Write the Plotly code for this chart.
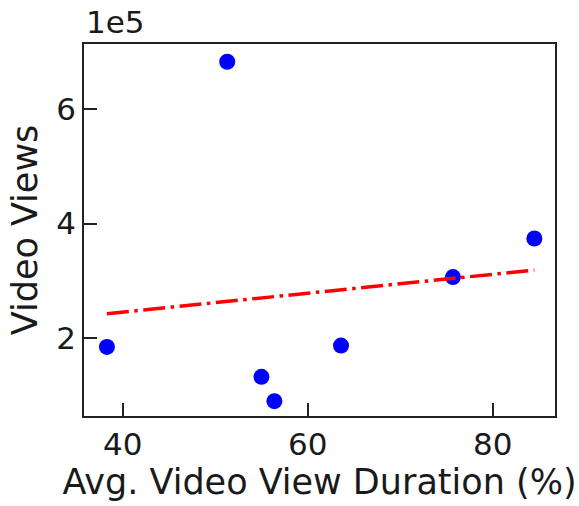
import numpy as np
import plotly.graph_objects as go

avg_view_duration = [38.3, 51.3, 55.0, 56.4, 63.6, 75.7, 84.5]
video_views = [185000, 682000, 133000, 90600, 187400, 306700, 374000]

x_ticks = [40, 60, 80]
y_ticks = [200000, 400000, 600000]
y_tick_labels = ["2", "4", "6"]
exponent_label = "1e5"

slope, intercept = np.polyfit(avg_view_duration, video_views, 1)
x_fit = [min(avg_view_duration), max(avg_view_duration)]
y_fit = [slope * v + intercept for v in x_fit]

FONT = "DejaVu Sans"

fig = go.Figure()
fig.add_trace(go.Scatter(
    x=avg_view_duration, y=video_views, mode="markers",
    marker=dict(color="#0000ff", size=16, line=dict(width=0)),
    showlegend=False,
))
fig.add_trace(go.Scatter(
    x=x_fit, y=y_fit, mode="lines",
    line=dict(color="#ff0000", width=3.5, dash="22px,5.5px,3.5px,5.5px"),
    showlegend=False,
))

axis_common = dict(
    showgrid=False, zeroline=False, showline=True, linecolor="#222222",
    linewidth=1.5, mirror=True, ticks="inside", ticklen=13, tickwidth=1.5,
    tickcolor="#222222", tickfont=dict(family=FONT, size=31, color="#1a1a1a"),
)

fig.update_layout(
    width=579, height=506,
    margin=dict(l=84, r=24, t=44, b=87),
    paper_bgcolor="white", plot_bgcolor="white",
    font=dict(family=FONT, color="#1a1a1a"),
    xaxis=dict(
        range=[35.82, 86.73], tickvals=x_ticks,
        title=dict(text="Avg. Video View Duration (%)", font=dict(family=FONT, size=35), standoff=8),
        **axis_common,
    ),
    yaxis=dict(
        range=[64700, 712900], tickvals=y_ticks, ticktext=y_tick_labels,
        title=dict(text="Video Views", font=dict(family=FONT, size=35), standoff=8),
        **axis_common,
    ),
    annotations=[dict(
        text=exponent_label, xref="paper", yref="paper", x=0, y=1,
        xanchor="left", yanchor="bottom", showarrow=False, yshift=2,
        font=dict(family=FONT, size=31, color="#1a1a1a"),
    )],
)

fig.write_html("out.html")
